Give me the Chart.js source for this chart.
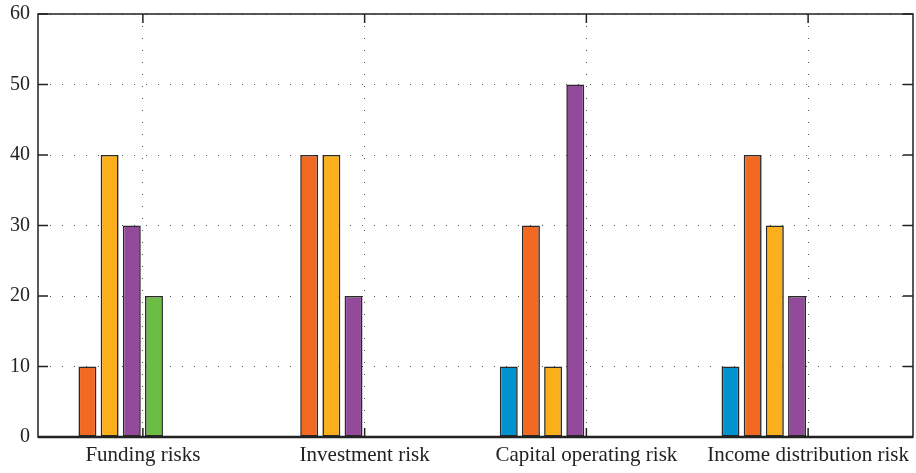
<!DOCTYPE html>
<html>
<head>
<meta charset="utf-8">
<script src="https://cdn.jsdelivr.net/npm/chart.js@4"></script>
<style>
  html, body { margin: 0; padding: 0; background: #fff; }
  #wrap { width: 916px; height: 473px; }
</style>
</head>
<body>
<div id="wrap"><canvas id="riskChart"></canvas></div>
<script>
const categories = ['Funding risks', 'Investment risk', 'Capital operating risk', 'Income distribution risk'];
const yTicks = [0, 10, 20, 30, 40, 50, 60];

const series1 = [0, 0, 10, 10];
const series2 = [10, 40, 30, 40];
const series3 = [40, 40, 10, 30];
const series4 = [30, 20, 50, 20];
const series5 = [20, 0, 0, 0];
const series6 = [0, 0, 0, 0];
const series7 = [0, 0, 0, 0];
const series8 = [0, 0, 0, 0];

const seriesList = [series1, series2, series3, series4, series5, series6, series7, series8];
const seriesColors = ['#0093d0', '#f26a22', '#fbb01b', '#934a9b', '#6cbd45', '#00a79d', '#c4262e', '#7f7f7f'];

const ctx = document.getElementById('riskChart').getContext('2d');
const axisColor = '#222';
const fontFace = '"Liberation Serif", "DejaVu Serif", serif';

// frame + inward tick marks, matlab style
const framePlugin = {
  id: 'frame',
  afterDatasetsDraw(chart) {
    const { ctx, chartArea: a, scales } = chart;
    ctx.save();
    ctx.strokeStyle = axisColor;
    ctx.lineWidth = 1.5;
    yTicks.forEach(v => {
      const y = scales.y.getPixelForValue(v);
      ctx.beginPath();
      ctx.moveTo(a.left, y); ctx.lineTo(a.left + 10, y);
      ctx.moveTo(a.right, y); ctx.lineTo(a.right - 10, y);
      ctx.stroke();
    });
    categories.forEach((c, i) => {
      const x = scales.x.getPixelForValue(i + 1);
      ctx.beginPath();
      ctx.moveTo(x, a.top); ctx.lineTo(x, a.top + 9);
      ctx.moveTo(x, a.bottom); ctx.lineTo(x, a.bottom - 9);
      ctx.stroke();
    });
    ctx.strokeRect(a.left, a.top, a.right - a.left, a.bottom - a.top);
    ctx.lineWidth = 2.5;
    ctx.beginPath();
    ctx.moveTo(a.left, a.bottom); ctx.lineTo(a.right, a.bottom);
    ctx.stroke();
    ctx.restore();
  }
};

new Chart(ctx, {
  type: 'bar',
  data: {
    datasets: seriesList.map((s, k) => ({
      label: 'Series ' + (k + 1),
      data: s.map((v, i) => ({ x: i + 1, y: v })),
      backgroundColor: seriesColors[k],
      borderColor: '#2a2a2a',
      borderWidth: 1.6,
      borderSkipped: false,
      categoryPercentage: 0.8,
      barPercentage: 0.81
    }))
  },
  plugins: [framePlugin],
  options: {
    animation: false,
    responsive: true,
    maintainAspectRatio: false,
    layout: { padding: { top: 14, right: 3, left: 0, bottom: 0 } },
    plugins: {
      legend: { display: false },
      tooltip: { enabled: false }
    },
    scales: {
      x: {
        type: 'linear',
        min: 0.527,
        max: 4.473,
        offset: false,
        afterBuildTicks: (scale) => {
          scale.ticks = categories.map((c, i) => ({ value: i + 1 }));
        },
        afterFit: (scale) => { scale.height = 36; },
        grid: {
          offset: false,
          drawTicks: false,
          color: '#555',
          lineWidth: 1
        },
        border: { display: false, dash: [1, 11] },
        ticks: {
          autoSkip: false,
          maxRotation: 0,
          padding: 6,
          color: axisColor,
          font: { family: fontFace, size: 21 },
          callback: (v) => categories[v - 1]
        }
      },
      y: {
        min: 0,
        max: 60,
        afterBuildTicks: (scale) => {
          scale.ticks = yTicks.map(v => ({ value: v }));
        },
        afterFit: (scale) => { scale.width = 38; },
        grid: {
          drawTicks: false,
          color: '#555',
          lineWidth: 1
        },
        border: { display: false, dash: [1, 11] },
        ticks: {
          padding: 8,
          color: axisColor,
          font: { family: fontFace, size: 20, lineHeight: 0.6 }
        }
      }
    }
  }
});
</script>
</body>
</html>
